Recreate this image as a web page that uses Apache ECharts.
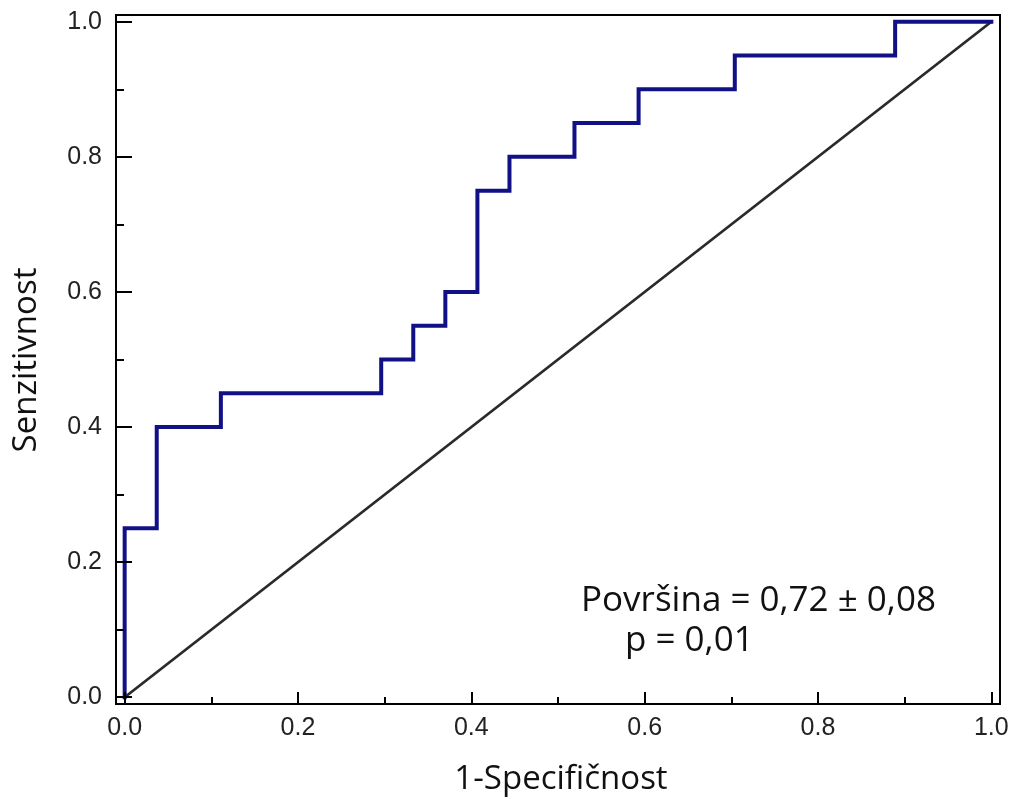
<!DOCTYPE html>
<html>
<head>
<meta charset="utf-8">
<script src="https://cdn.jsdelivr.net/npm/echarts@6/dist/echarts.min.js"></script>
<style>
html,body{margin:0;padding:0;background:#fff;}
#chart{width:1013px;height:799px;}
</style>
</head>
<body>
<div id="chart"></div>
<script>
// ROC curve corner points (1-specificity, sensitivity)
var rocFpr = [0, 0, 0.037, 0.037, 0.111, 0.111, 0.296, 0.296, 0.333, 0.333, 0.370, 0.370, 0.407, 0.407, 0.444, 0.444, 0.519, 0.519, 0.593, 0.593, 0.704, 0.704, 0.889, 0.889, 1.0];
var rocTpr = [0, 0.25, 0.25, 0.40, 0.40, 0.45, 0.45, 0.50, 0.50, 0.55, 0.55, 0.60, 0.60, 0.75, 0.75, 0.80, 0.80, 0.85, 0.85, 0.90, 0.90, 0.95, 0.95, 1.0, 1.0];
// reference diagonal
var diagX = [0, 1];
var diagY = [0, 1];
// ticks
var majorTicks = [0, 0.2, 0.4, 0.6, 0.8, 1.0];
var minorTicks = [0.1, 0.3, 0.5, 0.7, 0.9];
var xTitle = '1-Specifičnost';
var yTitle = 'Senzitivnost';
var annot1 = 'Površina = 0,72 ± 0,08';
var annot2 = 'p = 0,01';

function pairs(xs, ys){ return xs.map(function(x,i){ return [x, ys[i]]; }); }

var labelStyle = {fontFamily:'Liberation Sans, Arial, sans-serif', fontSize:25, color:'#222'};

function makeAxis(isMajor, isX){
  return {
    type:'value', min:-0.01, max:1.01,
    position: isX ? 'bottom' : 'left',
    splitLine:{show:false},
    axisLine:{show:isMajor, onZero:false, lineStyle:{color:'#000', width:2}},
    axisTick:{show:true, inside:true, customValues: isMajor ? majorTicks : minorTicks,
              length: isX ? (isMajor ? 12 : 7) : (isMajor ? 16 : 8),
              lineStyle:{color:'#000', width:2}},
    axisLabel:{show:isMajor, customValues: majorTicks, margin: isX ? 12 : 14,
               formatter:function(v){ return v.toFixed(1); },
               fontFamily:labelStyle.fontFamily, fontSize:labelStyle.fontSize, color:labelStyle.color},
    z: 5
  };
}

var chart = echarts.init(document.getElementById('chart'), null, {renderer:'canvas'});
chart.setOption({
  animation:false,
  backgroundColor:'#fff',
  grid:{left:116, right:13, top:15, bottom:95, show:true, borderColor:'#000', borderWidth:2, backgroundColor:'transparent'},
  xAxis:[makeAxis(true,true), makeAxis(false,true)],
  yAxis:[makeAxis(true,false), makeAxis(false,false)],
  series:[
    {type:'line', xAxisIndex:0, yAxisIndex:0, data:pairs(diagX, diagY), showSymbol:false,
     lineStyle:{color:'#2a2a2a', width:2.8}, z:2},
    {type:'line', xAxisIndex:0, yAxisIndex:0, data:pairs(rocFpr, rocTpr), showSymbol:false,
     lineStyle:{color:'#111185', width:4, join:'miter', cap:'square'}, z:3}
  ],
  graphic:[
    {type:'text', x:561, y:780, style:{text:xTitle, fontFamily:'Open Sans, sans-serif', fontSize:33, fill:'#111', align:'center', verticalAlign:'middle'}},
    {type:'text', x:27, y:360, rotation:Math.PI/2, style:{text:yTitle, fontFamily:'Open Sans, sans-serif', fontSize:33, fill:'#111', align:'center', verticalAlign:'middle'}},
    {type:'text', x:581, y:601, style:{text:annot1, fontFamily:'Open Sans, sans-serif', fontSize:35, fill:'#111', align:'left', verticalAlign:'middle'}},
    {type:'text', x:625, y:641, style:{text:annot2, fontFamily:'Open Sans, sans-serif', fontSize:35, fill:'#111', align:'left', verticalAlign:'middle'}}
  ]
});
</script>
</body>
</html>
